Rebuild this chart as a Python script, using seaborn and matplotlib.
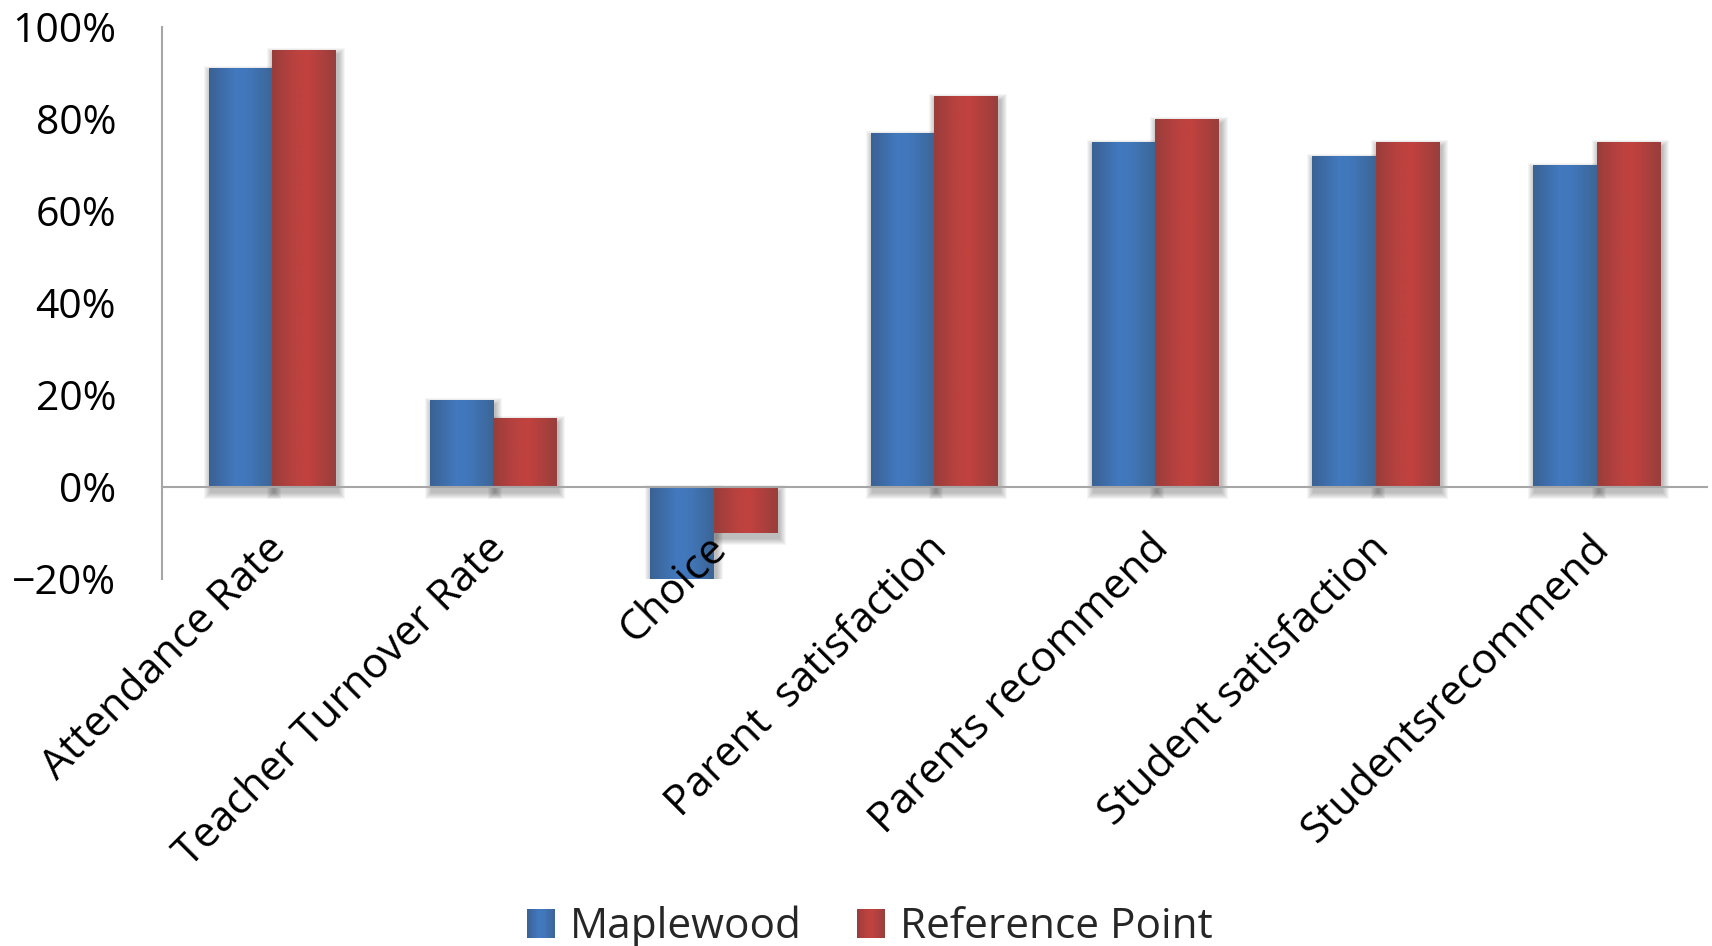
import numpy as np
import pandas as pd
import matplotlib
matplotlib.use("Agg")
import matplotlib.pyplot as plt
import seaborn as sns
from matplotlib.colors import LinearSegmentedColormap
from matplotlib.patches import Rectangle, Patch
from matplotlib.legend_handler import HandlerBase
from matplotlib.transforms import ScaledTranslation
from matplotlib.ticker import PercentFormatter, FixedLocator

# ---- data -------------------------------------------------------------
categories = ["Attendance Rate", "Teacher Turnover Rate", "Choice",
              "Parent  satisfaction", "Parents recommend",
              "Student satisfaction", "Studentsrecommend"]
maplewood = [0.91, 0.19, -0.20, 0.77, 0.75, 0.72, 0.70]
reference_point = [0.95, 0.15, -0.10, 0.85, 0.80, 0.75, 0.75]
series_names = ["Maplewood", "Reference Point"]
y_ticks = [-0.2, 0.0, 0.2, 0.4, 0.6, 0.8, 1.0]

# ---- style ------------------------------------------------------------
sns.set_theme(style="white")
plt.rcParams["font.family"] = ["Open Sans", "DejaVu Sans"]

BLUE_STOPS = [(0.0, "#3A6193"), (0.42, "#4279BF"), (0.62, "#4177BA"), (1.0, "#3C6596")]
RED_STOPS = [(0.0, "#993D3B"), (0.35, "#B9423F"), (0.55, "#C2423F"), (1.0, "#983E3C")]
BASE = ["#4179BE", "#C1423F"]
AXIS_GREY = "#A6A6A6"
FS_Y = 29.5
FS_X = 30.5
FS_LEG = 30.5

df = pd.DataFrame({
    "category": categories * 2,
    "value": maplewood + reference_point,
    "series": [series_names[0]] * len(categories) + [series_names[1]] * len(categories),
})

fig = plt.figure(figsize=(17.12, 9.46), dpi=100)
ax = fig.add_axes([0.0946, 0.388, 0.9024, 0.5835])

sns.barplot(data=df, x="category", y="value", hue="series",
            hue_order=series_names, order=categories,
            palette=BASE, saturation=1, width=0.575, gap=0,
            legend=False, ax=ax, errorbar=None)

n = len(categories)
ax.set_xlim(-0.5, n - 0.5)
ax.set_ylim(-0.2, 1.0)

# px -> data scale factors
px_x = n / (0.9024 * 1712)
px_y = 1.2 / (0.5835 * 946)


def gradient_fill(patch, stops):
    cmap = LinearSegmentedColormap.from_list("bar", stops)
    x0, w = patch.get_x(), patch.get_width()
    y0, h = patch.get_y(), patch.get_height()
    lo, hi = min(y0, y0 + h), max(y0, y0 + h)
    grad = np.linspace(0, 1, 256)[None, :]
    im = ax.imshow(grad, cmap=cmap, extent=(x0, x0 + w, lo, hi),
                   aspect="auto", origin="lower", interpolation="bilinear",
                   zorder=3)
    im.set_clip_path(patch)
    # soft drop shadow below/right of the bar
    for k in range(7, 0, -1):
        ax.add_patch(Rectangle((x0 + 2 * px_x - k * px_x, lo - 5 * px_y - k * px_y),
                               w + 2 * k * px_x, (hi - lo) + 2 * k * px_y,
                               facecolor="black", edgecolor="none",
                               alpha=0.04, zorder=1.5))


for i, patch in enumerate(ax.patches[:2 * n]):
    patch.set_zorder(2.5)
    patch.set_edgecolor("none")
    gradient_fill(patch, BLUE_STOPS if i < n else RED_STOPS)

ax.set_xlim(-0.5, n - 0.5)
ax.set_ylim(-0.2, 1.0)

# ---- axes -------------------------------------------------------------
for side in ("top", "right"):
    ax.spines[side].set_visible(False)
ax.spines["left"].set_color(AXIS_GREY)
ax.spines["left"].set_linewidth(1.5)
ax.spines["bottom"].set_color(AXIS_GREY)
ax.spines["bottom"].set_linewidth(1.5)
ax.spines["bottom"].set_position(("data", 0))
ax.spines["bottom"].set_zorder(4)

ax.yaxis.set_major_locator(FixedLocator(y_ticks))
ax.yaxis.set_major_formatter(PercentFormatter(1.0, decimals=0))
ax.tick_params(axis="y", length=0, pad=33, labelsize=FS_Y, labelcolor="black")
ax.tick_params(axis="x", length=0, pad=22, labelsize=FS_X, labelcolor="black")
ax.xaxis.set_zorder(6)
ax.set_xlabel("")
ax.set_ylabel("")
ax.grid(False)

for lab in ax.get_xticklabels():
    lab.set_rotation(45)
    lab.set_ha("right")
    lab.set_va("top")
    lab.set_rotation_mode("anchor")
    lab.set_transform(lab.get_transform() + ScaledTranslation(-0.08, -0.1, fig.dpi_scale_trans))


# ---- legend with shaded squares --------------------------------------
class ShadedSquare(HandlerBase):
    def __init__(self, stops):
        super().__init__()
        self.stops = stops

    def create_artists(self, legend, orig_handle, xdescent, ydescent,
                       width, height, fontsize, trans):
        cmap = LinearSegmentedColormap.from_list("h", self.stops)
        strips = 16
        arts = []
        for j in range(strips):
            arts.append(Rectangle((-xdescent + j * width / strips, -ydescent),
                                  width / strips + 0.3, height,
                                  facecolor=cmap((j + 0.5) / strips),
                                  edgecolor="none", transform=trans))
        return arts


h_blue = Patch(facecolor=BASE[0], label=series_names[0])
h_red = Patch(facecolor=BASE[1], label=series_names[1])
fig.legend(handles=[h_blue, h_red], labels=series_names,
           handler_map={h_blue: ShadedSquare(BLUE_STOPS), h_red: ShadedSquare(RED_STOPS)},
           loc="center", bbox_to_anchor=(0.508, 0.02), ncol=2, frameon=False,
           fontsize=FS_LEG, handlelength=0.66, handleheight=0.7,
           handletextpad=0.35, columnspacing=1.3, borderpad=0)

fig.savefig("out.png", dpi=100)
